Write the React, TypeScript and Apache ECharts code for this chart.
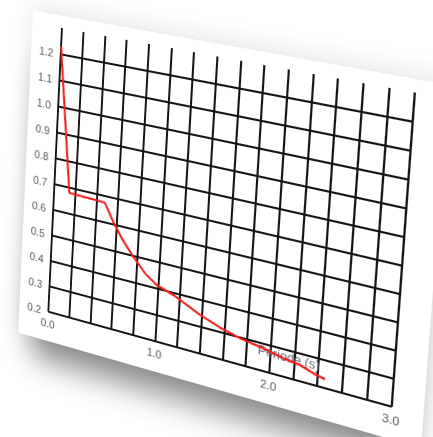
import React, { useEffect, useRef } from "react";
import * as echarts from "echarts";

// Data (period in s, spectral value)
const periods = [0, 0.145, 0.48, 0.566, 0.651, 0.765, 0.879, 0.989, 1.141, 1.264, 1.385, 1.563, 1.739, 1.94, 2.111, 2.251, 2.363, 2.461];
const values = [1.23, 0.68, 0.675, 0.61, 0.556, 0.497, 0.446, 0.413, 0.392, 0.368, 0.344, 0.317, 0.297, 0.283, 0.267, 0.259, 0.242, 0.232];
const xLabelValues = [0, 1, 2, 3];
const xAxisName = "Période (s)";

// layout of the flat chart (local coordinates)
const CW = 440;
const CH = 400;
const GL = 50;
const GT = 40;
const GW = 340;
const GH = 286;

// projective warp: local grid corners -> screen corners
function homography(src: number[][], dst: number[][]): number[] {
  const A: number[][] = [];
  const B: number[] = [];
  for (let i = 0; i < 4; i++) {
    const [u, v] = src[i];
    const [X, Y] = dst[i];
    A.push([u, v, 1, 0, 0, 0, -u * X, -v * X]);
    B.push(X);
    A.push([0, 0, 0, u, v, 1, -u * Y, -v * Y]);
    B.push(Y);
  }
  const n = 8;
  for (let c = 0; c < n; c++) {
    let p = c;
    for (let r = c + 1; r < n; r++) if (Math.abs(A[r][c]) > Math.abs(A[p][c])) p = r;
    [A[c], A[p]] = [A[p], A[c]];
    [B[c], B[p]] = [B[p], B[c]];
    for (let r = 0; r < n; r++) {
      if (r === c) continue;
      const f = A[r][c] / A[c][c];
      for (let k = c; k < n; k++) A[r][k] -= f * A[c][k];
      B[r] -= f * B[c];
    }
  }
  return B.map((b, i) => b / A[i][i]);
}

const yTop = GT + GH / 11; // y = 1.2
const yBot = GT + GH; // y = 0.2
const h = homography(
  [
    [GL, yTop],
    [GL + GW, yTop],
    [GL + GW, yBot],
    [GL, yBot],
  ],
  [
    [60.7, 54.3],
    [412.7, 121.7],
    [391.7, 406.7],
    [48.3, 311.7],
  ]
);
const matrix = `matrix3d(${h[0]},${h[3]},0,${h[6]},${h[1]},${h[4]},0,${h[7]},0,0,1,0,${h[2]},${h[5]},0,1)`;

export default function App() {
  const ref = useRef<HTMLDivElement>(null);
  useEffect(() => {
    if (!ref.current) return;
    const chart = echarts.init(ref.current, undefined, { renderer: "svg" });
    const lineColor = "#141414";
    chart.setOption({
      animation: false,
      grid: { left: GL, top: GT, width: GW, height: GH, containLabel: false, outerBoundsMode: "none" },
      graphic: [
        {
          type: "text",
          x: 294,
          y: 307,
          z: 3,
          style: {
            text: xAxisName,
            fill: "#6a6a6a",
            font: "12px 'Liberation Sans'",
            align: "center",
            verticalAlign: "middle",
          },
        },
      ],
      xAxis: {
        type: "value",
        min: 0,
        max: 3,
        interval: 0.2,
        axisLine: { show: false },
        axisTick: { show: false },
        axisLabel: {
          color: "#555",
          fontSize: 11,
          fontFamily: "Liberation Sans",
          margin: 6,
          formatter: (v: number) => {
            const hit = xLabelValues.find((t) => Math.abs(t - v) < 1e-6);
            return hit === undefined ? "" : hit.toFixed(1);
          },
        },
        splitLine: { show: true, lineStyle: { color: lineColor, width: 2 } },
      },
      yAxis: {
        type: "value",
        min: 0.2,
        max: 1.3,
        interval: 0.1,
        axisLine: { show: false },
        axisTick: { show: false },
        axisLabel: {
          color: "#555",
          fontSize: 11,
          fontFamily: "Liberation Sans",
          margin: 8,
          showMaxLabel: false,
          formatter: (v: number) => (v > 1.25 ? "" : v.toFixed(1)),
        },
        splitLine: { show: true, showMaxLine: false, lineStyle: { color: lineColor, width: 2 } },
      },
      series: [
        {
          type: "line",
          data: periods.map((p, i) => [p, values[i]]),
          showSymbol: false,
          symbol: "none",
          lineStyle: { color: "#f01c1c", width: 2.2 },
          z: 5,
        },
      ],
    });
    return () => chart.dispose();
  }, []);

  return (
    <div
      style={{
        position: "fixed",
        left: 0,
        top: 0,
        width: 433,
        height: 437,
        overflow: "hidden",
        background: "#ffffff",
      }}
    >
      <div
        style={{
          position: "absolute",
          left: 0,
          top: 0,
          width: CW,
          height: CH,
          transformOrigin: "0 0",
          transform: matrix,
        }}
      >
        <div
          style={{
            position: "absolute",
            left: 18,
            top: 28,
            width: 400,
            height: 328,
            background: "#ffffff",
            boxShadow: "0 34px 30px -14px rgba(0,0,0,0.45), 0 -4px 22px rgba(0,0,0,0.10)",
          }}
        />
        <div ref={ref} style={{ position: "absolute", left: 0, top: 0, width: CW, height: CH }} />
      </div>
    </div>
  );
}
